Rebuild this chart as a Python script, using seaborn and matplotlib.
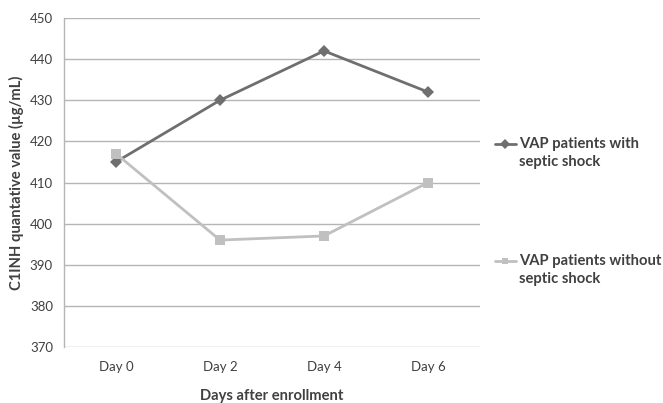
import matplotlib
matplotlib.use("Agg")
import matplotlib.pyplot as plt
import seaborn as sns
import pandas as pd
from matplotlib.lines import Line2D

days = ["Day 0", "Day 2", "Day 4", "Day 6"]
with_shock = [415, 430, 442, 432]
without_shock = [417, 396, 397, 410]
series_names = ["VAP patients with\nseptic shock", "VAP patients without\nseptic shock"]
y_ticks = [370, 380, 390, 400, 410, 420, 430, 440, 450]

sns.set_theme(style="white")
plt.rcParams["font.family"] = ["Lato", "DejaVu Sans"]

df = pd.DataFrame({
    "pos": list(range(len(days))) * 2,
    "value": with_shock + without_shock,
    "group": [series_names[0]] * len(days) + [series_names[1]] * len(days),
})

dark = "#6f6f6f"
light = "#c0c0c0"
grid = "#b5b5b5"
text_c = "#404040"

W, H = 663, 403
fig = plt.figure(figsize=(W / 100, H / 100), dpi=100)
ax = fig.add_axes([64 / W, 1 - 347 / H, (480 - 64) / W, (347 - 18) / H])

sns.lineplot(data=df, x="pos", y="value", hue="group", style="group",
             palette=[dark, light], markers=["D", "s"], dashes=False,
             markersize=6.5, linewidth=2, markeredgewidth=0, ax=ax, legend=False)

ax.set_xlim(-0.5, 3.5)
ax.set_ylim(370, 450)
ax.set_yticks(y_ticks)
ax.set_xticks(range(len(days)))
ax.set_xticklabels(days)
ax.yaxis.grid(True, color=grid, linewidth=1)
ax.xaxis.grid(False)
for s in ["top", "right", "bottom"]:
    ax.spines[s].set_visible(False)
ax.spines["left"].set_color(grid)
ax.spines["left"].set_linewidth(1)
ax.tick_params(axis="both", length=0, labelsize=9.5, labelcolor=text_c)
ax.tick_params(axis="y", pad=8)
ax.tick_params(axis="x", pad=10)
ax.set_xlabel("Days after enrollment", fontsize=10.6, fontweight="bold", color=text_c, labelpad=11.5)
ax.set_ylabel("C1INH quantative value (\u00b5g/mL)", fontsize=10.6, fontweight="bold", color=text_c, labelpad=4)

# Legend drawn by hand so each key lines up with the first line of its label
legend_rows = [(144, dark, "D", series_names[0]), (261, light, "s", series_names[1])]
for y_px, col, mk, label in legend_rows:
    yf = 1 - y_px / H
    fig.add_artist(Line2D([495 / W, 516 / W], [yf, yf], transform=fig.transFigure,
                          color=col, linewidth=2))
    fig.add_artist(Line2D([505.5 / W], [yf], transform=fig.transFigure, color=col,
                          marker=mk, markersize=5, markeredgewidth=0, linestyle="none"))
    fig.text(519 / W, 1 - (y_px - 7) / H, label, ha="left", va="top", fontsize=10.6,
             fontweight="bold", color=text_c, linespacing=1.35)

fig.savefig("out.png", dpi=100)
